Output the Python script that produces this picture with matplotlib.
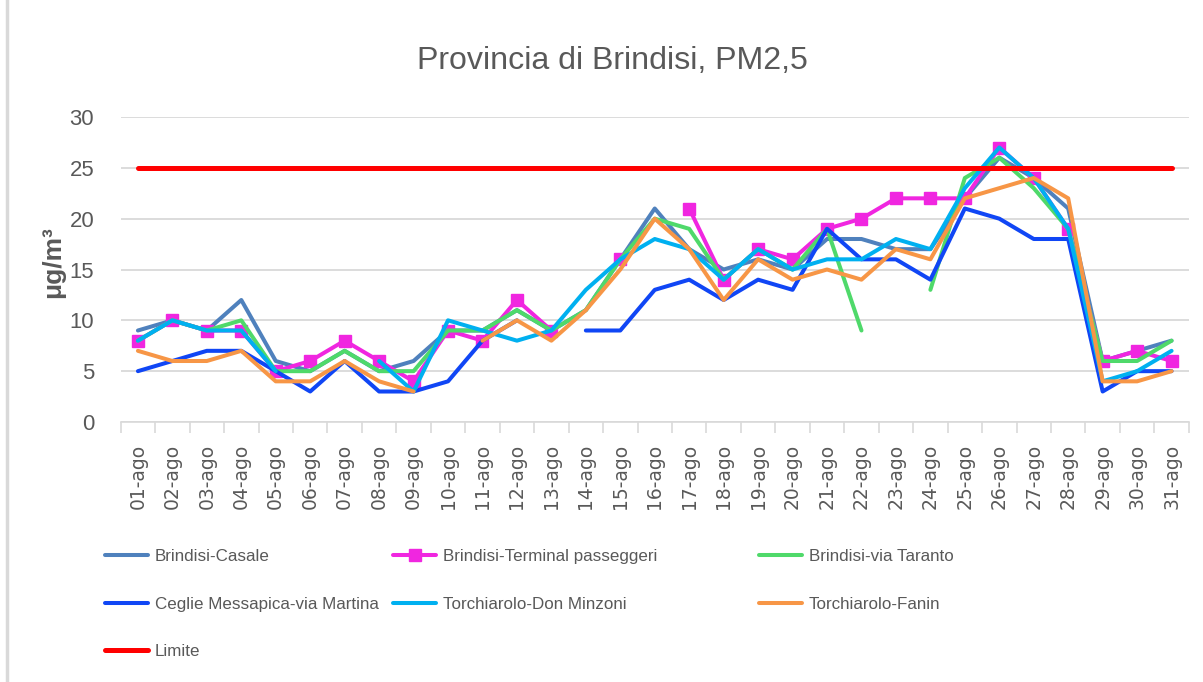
import numpy as np
import matplotlib
matplotlib.use("Agg")
import matplotlib.pyplot as plt
from matplotlib import font_manager
from matplotlib.lines import Line2D

nan = np.nan

# data (ug/m3, daily PM2.5, August)
days = ["%02d-ago" % d for d in range(1, 32)]
casale = [9, 10, 9, 12, 6, 5, 7, 5, 6, 9, 9, 11, 9, 11, 16, 21, 17, 15, 16, 15,
          18, 18, 17, 17, 22, 26, 24, 21, 6, 7, 8]
terminal = [8, 10, 9, 9, 5, 6, 8, 6, 4, 9, 8, 12, 9, nan, 16, nan, 21, 14, 17, 16,
            19, 20, 22, 22, 22, 27, 24, 19, 6, 7, 6]
taranto = [8, 10, 9, 10, 5, 5, 7, 5, 5, 9, 9, 11, 9, 11, 16, 20, 19, 14, 17, 15,
           19, 9, nan, 13, 24, 26, 23, 19, 6, 6, 8]
ceglie = [5, 6, 7, 7, 5, 3, 6, 3, 3, 4, 8, 10, nan, 9, 9, 13, 14, 12, 14, 13,
          19, 16, 16, 14, 21, 20, 18, 18, 3, 5, 5]
donminzoni = [8, 10, 9, 9, 5, nan, nan, 6, 3, 10, 9, 8, 9, 13, 16, 18, 17, 14, 17, 15,
              16, 16, 18, 17, 23, 27, 24, 19, 4, 5, 7]
fanin = [7, 6, 6, 7, 4, 4, 6, 4, 3, nan, 8, 10, 8, 11, 15, 20, 17, 12, 16, 14,
         15, 14, 17, 16, 22, 23, 24, 22, 4, 4, 5]
limite = [25] * 31

# fonts (the original uses a narrow face; no narrow one here, so sizes follow widths)
names = {f.name for f in font_manager.fontManager.ttflist}
narrow = "Liberation Sans Narrow" if "Liberation Sans Narrow" in names else "Liberation Sans"
scale = 1.0 if narrow == "Liberation Sans Narrow" else 0.84
grey = "#595959"
gridc = "#D9D9D9"

W, H = 1203, 682
fig = plt.figure(figsize=(W / 100, H / 100), dpi=100)
ax = fig.add_axes([120.7 / W, 1 - 422 / H, (1188.8 - 120.7) / W, (422 - 117) / H])

x = np.arange(len(days))
lw = 2.9
kw = dict(linewidth=lw, solid_joinstyle="round", solid_capstyle="round")

l1, = ax.plot(x, casale, color="#4F81BD", label="Brindisi-Casale", **kw)
l2, = ax.plot(x, terminal, color="#F026E0", marker="s", markersize=8.5,
              label="Brindisi-Terminal passeggeri", **kw)
l3, = ax.plot(x, taranto, color="#4FD96A", label="Brindisi-via Taranto", **kw)
l4, = ax.plot(x, ceglie, color="#1046F5", label="Ceglie Messapica-via Martina", **kw)
l5, = ax.plot(x, donminzoni, color="#00B0F0", label="Torchiarolo-Don Minzoni", **kw)
l6, = ax.plot(x, fanin, color="#F79646", label="Torchiarolo-Fanin", **kw)
l7, = ax.plot(x, limite, color="#FF0000", linewidth=3.6, solid_capstyle="round",
              label="Limite")

ax.set_xlim(-0.5, len(days) - 0.5)
ax.set_ylim(0, 30)
ax.set_yticks(range(0, 31, 5))
ax.set_xticks(x)
ax.set_xticklabels(days, rotation=90, fontsize=13.5, color=grey, family="DejaVu Sans")
ax.set_xticks(np.arange(-0.5, len(days), 1), minor=True)
ax.tick_params(axis="x", which="major", length=0, pad=16)
ax.tick_params(axis="x", which="minor", length=8, color=gridc, width=1.2)
ax.tick_params(axis="y", length=0, pad=19, labelsize=19 * scale, labelcolor=grey)
for t in ax.get_yticklabels():
    t.set_family(narrow)

for s in ["top", "right", "left"]:
    ax.spines[s].set_visible(False)
ax.spines["bottom"].set_color(gridc)
ax.spines["bottom"].set_linewidth(1.2)
ax.grid(axis="y", color=gridc, linewidth=1.3)
ax.set_axisbelow(True)

fig.text(612 / W, 1 - 69 / H, "Provincia di Brindisi, PM2,5", ha="center",
         va="baseline", fontsize=27.5 * scale, color=grey, family=narrow)
fig.text(53 / W, 1 - 262 / H, "\u03bcg/m\u00b3", rotation=90, ha="center", va="center",
         fontsize=19, fontweight="bold", color=grey, family=narrow)

# legend: three columns as in the original
fs = 14.6 * scale
px = fs / 0.72
lkw = dict(loc="upper left", frameon=False, borderpad=0, borderaxespad=0,
           handlelength=43 / px, handletextpad=7 / px,
           labelspacing=(52 - 1.15 * px) / px,
           prop={"family": narrow, "size": fs}, labelcolor=grey)
top = 1 - (559 - 0.58 * px) / H
fig.legend([l1, l4, l7], [l.get_label() for l in (l1, l4, l7)],
           bbox_to_anchor=(105 / W, top), **lkw)
fig.legend([l2, l5], [l.get_label() for l in (l2, l5)],
           bbox_to_anchor=(393 / W, top), **lkw)
fig.legend([l3, l6], [l.get_label() for l in (l3, l6)],
           bbox_to_anchor=(759 / W, top), **lkw)

# outer chart frame (left edge visible in the original)
fig.add_artist(Line2D([7 / W, 7 / W], [0, 1], transform=fig.transFigure,
                      color=gridc, linewidth=2.5))

fig.savefig("out.png", dpi=100)
